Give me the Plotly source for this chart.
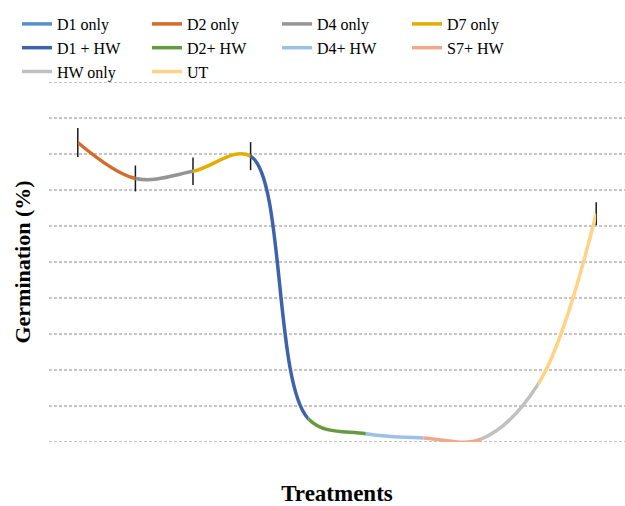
import plotly.graph_objects as go

treatments = ["D1 only", "D2 only", "D4 only", "D7 only", "D1 + HW",
              "D2+ HW", "D4+ HW", "S7+ HW", "HW only", "UT"]
germination = [83.2, 73.2, 75.2, 79.4, 6.5, 2.3, 1.1, 0.8, 16.3, 63.4]
errors = [4.0, 3.6, 3.8, 3.9, None, None, None, None, None, 3.2]
colors = ["#5590C8", "#D46B2B", "#959595", "#E5AC00", "#3E62AC",
          "#659B40", "#9DC0E5", "#F1A98D", "#C0C0C0", "#FFD385"]
y_ticks = list(range(0, 101, 10))

FONT = "Times New Roman, Liberation Serif, serif"
n = len(treatments)
fig = go.Figure()

# first series: single point (no visible segment)
fig.add_trace(go.Scatter(x=[treatments[0]], y=[germination[0]], mode="lines",
                         name=treatments[0], line=dict(color=colors[0], width=3.5),
                         xaxis="x", yaxis="y"))

layout_axes = {}
for k in range(1, n):
    lo = max(0, k - 2)
    hi = min(n, k + 2)
    axname = "x%d" % (k + 1)
    fig.add_trace(go.Scatter(
        x=treatments[lo:hi], y=germination[lo:hi], mode="lines",
        name=treatments[k], line=dict(color=colors[k], width=3.5, shape="spline", smoothing=1),
        xaxis=axname, yaxis="y"))
    layout_axes["xaxis%d" % (k + 1)] = dict(
        type="category", categoryorder="array", categoryarray=treatments,
        domain=[(k - 0.5) / n, (k + 0.5) / n], range=[k - 1, k],
        visible=False, anchor="y", showgrid=False, zeroline=False)

ex = [t for t, e in zip(treatments, errors) if e is not None]
ey = [g for g, e in zip(germination, errors) if e is not None]
ee = [e for e in errors if e is not None]
fig.add_trace(go.Scatter(x=ex, y=ey, mode="markers", showlegend=False,
                         marker=dict(size=1, color="rgba(0,0,0,0)"),
                         error_y=dict(type="data", array=ee, visible=True,
                                      color="#1a1a1a", thickness=1.5, width=0),
                         xaxis="x", yaxis="y"))

shapes = [dict(type="line", xref="paper", x0=0, x1=1, yref="y", y0=v, y1=v,
               line=dict(color="#8c8c8c", width=1, dash="3px,2px"), layer="below")
          for v in y_ticks]

fig.update_layout(
    width=625, height=506,
    margin=dict(l=49, r=0, t=82, b=64, autoexpand=False),
    paper_bgcolor="white", plot_bgcolor="rgba(0,0,0,0)",
    font=dict(family=FONT, color="black"),
    shapes=shapes,
    xaxis=dict(type="category", categoryorder="array", categoryarray=treatments,
               range=[-0.5, n - 0.5], showticklabels=False, ticks="", showgrid=False,
               zeroline=False, showline=False,
               title=dict(text="Treatments", standoff=47,
                          font=dict(family=FONT, size=23, weight="bold"))),
    yaxis=dict(range=[0, 100], showticklabels=False, ticks="", showgrid=False,
               zeroline=False, showline=False,
               title=dict(text="Germination (%)", standoff=11,
                          font=dict(family=FONT, size=22, weight="bold"))),
    legend=dict(orientation="h", xref="paper", yref="paper",
                x=-32 / 576, y=1 + 75 / 360, xanchor="left", yanchor="top",
                font=dict(family=FONT, size=16, color="black"), entrywidth=85,
                traceorder="normal", tracegroupgap=0,
                bgcolor="rgba(0,0,0,0)"),
    showlegend=True,
    **layout_axes,
)

fig.write_html("out.html", config={"displayModeBar": False},
               post_script="document.body.style.margin='0';document.body.style.overflow='hidden';")
